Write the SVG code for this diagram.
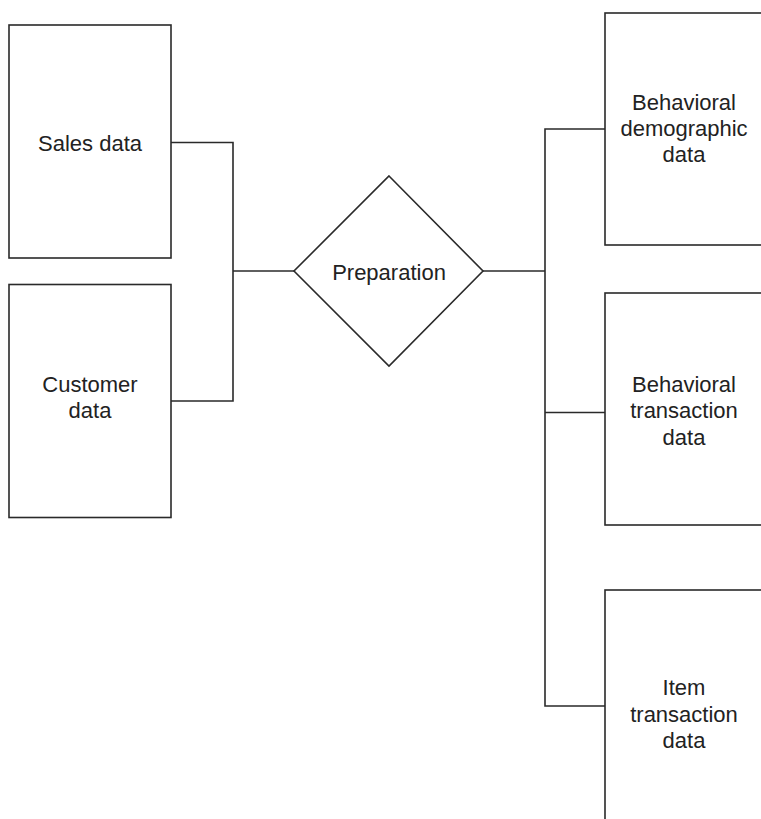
<svg xmlns="http://www.w3.org/2000/svg" width="761" height="819" viewBox="0 0 761 819">
  <style>
    .box { fill: #ffffff; stroke: #2a2a2a; stroke-width: 1.6; }
    .wire { fill: none; stroke: #2a2a2a; stroke-width: 1.6; }
    .lbl { font-family: "Liberation Sans", Arial, sans-serif; font-size: 22px; fill: #222222; text-anchor: middle; }
  </style>
  <rect width="761" height="819" fill="#ffffff"/>

  <g id="connectors">
    <polyline class="wire" points="171,142.5 233,142.5 233,401 171,401"/>
    <line class="wire" x1="233" y1="271" x2="294" y2="271"/>
    <line class="wire" x1="483" y1="271" x2="545" y2="271"/>
    <polyline class="wire" points="605,129 545,129 545,706 605,706"/>
    <line class="wire" x1="545" y1="412.5" x2="605" y2="412.5"/>
  </g>

  <g id="sales-data">
    <rect class="box" x="9" y="25" width="162" height="233"/>
    <text class="lbl" x="90" y="151">Sales data</text>
  </g>

  <g id="customer-data">
    <rect class="box" x="9" y="284.5" width="162" height="233"/>
    <text class="lbl" x="90" y="392">Customer</text>
    <text class="lbl" x="90" y="418">data</text>
  </g>

  <g id="preparation">
    <polygon class="box" points="389,176 483,271 389,366 294,271"/>
    <text class="lbl" x="389" y="280">Preparation</text>
  </g>

  <g id="behavioral-demographic-data">
    <rect class="box" x="605" y="13" width="162" height="232"/>
    <text class="lbl" x="684" y="110">Behavioral</text>
    <text class="lbl" x="684" y="136">demographic</text>
    <text class="lbl" x="684" y="162">data</text>
  </g>

  <g id="behavioral-transaction-data">
    <rect class="box" x="605" y="293" width="162" height="232"/>
    <text class="lbl" x="684" y="392">Behavioral</text>
    <text class="lbl" x="684" y="418">transaction</text>
    <text class="lbl" x="684" y="445">data</text>
  </g>

  <g id="item-transaction-data">
    <rect class="box" x="605" y="590" width="162" height="240"/>
    <text class="lbl" x="684" y="695">Item</text>
    <text class="lbl" x="684" y="721.5">transaction</text>
    <text class="lbl" x="684" y="748">data</text>
  </g>
</svg>
